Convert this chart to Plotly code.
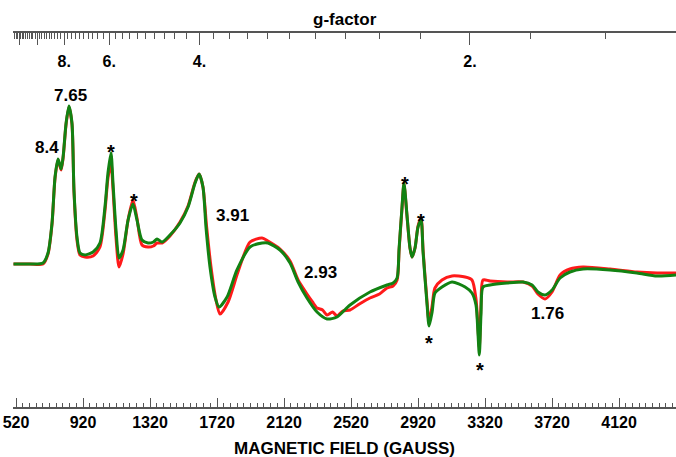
import plotly.graph_objects as go

# Magnetic field (G) and EPR intensity (arb. units)
field_green = [505, 604, 681, 711, 735, 753, 771, 789, 801, 819, 836, 854, 866, 884, 902, 932, 980, 1021,
               1051, 1069, 1087, 1099, 1117, 1135, 1159, 1189, 1218, 1242, 1272, 1308, 1340, 1362, 1392,
               1439, 1499, 1547, 1589, 1613, 1636, 1654, 1678, 1708, 1732, 1780, 1839, 1917, 1989, 2024,
               2096, 2156, 2204, 2257, 2317, 2377, 2436, 2514, 2633, 2735, 2771, 2795, 2807, 2824, 2836,
               2854, 2872, 2884, 2902, 2920, 2938, 2950, 2974, 2986, 3004, 3021, 3063, 3123, 3201, 3242,
               3266, 3278, 3286, 3296, 3308, 3350, 3451, 3547, 3601, 3636, 3678, 3720, 3768, 3827, 3905,
               4066, 4227, 4347, 4460]
int_green = [0, 0, 1, 11, 41, 87, 105, 95, 107, 141, 158, 141, 74, 27, 11, 9, 12, 21,
             57, 91, 111, 81, 34, 6, 14, 44, 60, 44, 24, 21, 22, 25, 22,
             29, 41, 57, 81, 90, 77, 37, -3, -33, -43, -33, -6, 17, 21, 21,
             14, 1, -18, -34, -48, -55, -53, -41, -28, -21, -19, -14, 16, 56, 81,
             49, 16, 7, 16, 37, 44, 12, -41, -62, -48, -29, -23, -18, -23, -29,
             -41, -70, -91, -50, -23, -21, -19, -18, -21, -28, -31, -26, -14, -8, -5,
             -6, -9, -12, -11]

field_red = [505, 604, 681, 711, 735, 753, 771, 789, 801, 819, 836, 854, 866, 884, 902, 932, 980, 1021,
             1051, 1069, 1087, 1099, 1117, 1135, 1159, 1189, 1218, 1242, 1272, 1308, 1340, 1362, 1392,
             1439, 1499, 1547, 1589, 1613, 1636, 1658, 1684, 1714, 1738, 1786, 1845, 1917, 1989, 2024,
             2096, 2156, 2204, 2257, 2290, 2317, 2350, 2377, 2410, 2436, 2470, 2514, 2570, 2633, 2690,
             2735, 2771, 2795, 2807, 2824, 2836,
             2854, 2872, 2884, 2902, 2920, 2938, 2950, 2974, 2986, 3004, 3021, 3063, 3123, 3201, 3242,
             3266, 3278, 3286, 3296, 3308, 3350, 3451, 3547, 3601, 3636, 3678, 3720, 3768, 3827, 3905,
             4066, 4227, 4347, 4460]
int_red = [0, 0, 0, 10, 40, 86, 104, 94, 106, 140, 157, 140, 73, 24, 9, 7, 8, 17,
           53, 86, 101, 75, 26, -3, 10, 44, 64, 46, 19, 17, 18, 21, 21,
           28, 42, 58, 82, 90, 77, 37, -3, -36, -50, -38, -8, 22, 26, 23,
           15, 3, -16, -30, -38, -44, -46, -51, -48, -52, -47, -46, -40, -34, -30,
           -24, -22, -16, 14, 55, 80,
           48, 16, 7, 16, 38, 46, 14, -38, -58, -42, -24, -16, -12, -13, -16,
           -35, -64, -84, -40, -16, -17, -18, -18, -22, -30, -35, -28, -11, -5, -3,
           -5, -8, -9, -9]

# Bottom axis ticks
field_ticks = [520, 920, 1320, 1720, 2120, 2520, 2920, 3320, 3720, 4120]

# g-factor axis
g_major = [12, 10, 8, 6, 4, 2]
g_major_text = ["", "", "8.", "6.", "4.", "2."]
g_minor = [round(12.8 - 0.2 * i, 1) for i in range(0, 57)]
g_minor = [g for g in g_minor if g not in g_major and g >= 1.6]
G_TIMES_B = 6460.0  # g * B (G), set by microwave frequency

# Annotations (label, field, intensity)
labels = ["8.4", "7.65", "3.91", "2.93", "1.76"]
label_x = [705, 848, 1812, 2337, 3692]
label_y = [117, 169, 49, -8, -49]
stars_x = [1087, 1224, 2842, 2938, 2986, 3290]
stars_y = [112, 63, 80, 43, -79, -106]

FONT = "Liberation Sans, Arial, sans-serif"
XR = [502, 4460]

fig = go.Figure()
fig.add_trace(go.Scatter(x=field_red, y=int_red, mode="lines",
                         line=dict(color="#ff1a1a", width=3, shape="spline", smoothing=0.7),
                         showlegend=False, hoverinfo="skip"))
fig.add_trace(go.Scatter(x=field_green, y=int_green, mode="lines",
                         line=dict(color="#128212", width=3, shape="spline", smoothing=0.7),
                         showlegend=False, hoverinfo="skip"))
# invisible trace for top axis
fig.add_trace(go.Scatter(x=XR, y=[0, 0], xaxis="x2", mode="lines",
                         line=dict(width=0), showlegend=False, hoverinfo="skip"))

for t, x, y in zip(labels, label_x, label_y):
    fig.add_annotation(x=x, y=y, text="<b>%s</b>" % t, showarrow=False,
                       font=dict(family=FONT, size=17, color="black"))
for x, y in zip(stars_x, stars_y):
    fig.add_annotation(x=x, y=y, text="<b>*</b>", showarrow=False,
                       font=dict(family=FONT, size=20, color="black"))

# axis titles
fig.add_annotation(x=0.5, y=1, xref="paper", yref="paper", xanchor="center", yanchor="bottom",
                   yshift=2, text="<b>g-factor</b>", showarrow=False,
                   font=dict(family=FONT, size=17, color="black"))
fig.add_annotation(x=0.5, y=0, xref="paper", yref="paper", xanchor="center", yanchor="top",
                   yshift=-30, text="<b>MAGNETIC FIELD (GAUSS)</b>", showarrow=False,
                   font=dict(family=FONT, size=17, color="black"))

axis_col = "#555555"
fig.update_layout(
    width=676, height=457,
    margin=dict(l=13, r=0, t=33, b=50),
    plot_bgcolor="white", paper_bgcolor="white",
    font=dict(family=FONT, color="black"),
    xaxis=dict(range=XR, showgrid=False, zeroline=False, showline=True, linecolor=axis_col, linewidth=1.5,
               automargin=False, ticklabeloverflow="allow",
               tickmode="array", tickvals=field_ticks, ticktext=[str(v) for v in field_ticks],
               ticks="inside", ticklen=9, tickwidth=1, tickcolor=axis_col,
               tickfont=dict(family=FONT, size=16, color="black", weight="bold"),
               minor=dict(dtick=40, tick0=520, ticks="inside", ticklen=4, tickcolor=axis_col, tickwidth=1)),
    xaxis2=dict(range=XR, overlaying="x", side="top", anchor="y", showgrid=False, zeroline=False,
                showline=True, linecolor=axis_col, linewidth=1.5, automargin=False,
                tickmode="array", tickvals=[G_TIMES_B / g for g in g_major], ticktext=g_major_text,
                ticks="inside", ticklen=12, tickwidth=1, tickcolor=axis_col, ticklabelposition="inside",
                ticklabelstandoff=11,
                tickfont=dict(family=FONT, size=16, color="black", weight="bold"),
                minor=dict(tickmode="array", tickvals=[G_TIMES_B / g for g in g_minor], ticks="inside",
                           ticklen=6, tickcolor=axis_col, tickwidth=1)),
    yaxis=dict(range=[-143, 231], visible=False, showgrid=False, zeroline=False),
)

# remove the browser's default 8px page margin so the figure fills the window exactly
fig.write_html("out.html", config={"displayModeBar": False},
               post_script="document.body.style.margin='0px';")
